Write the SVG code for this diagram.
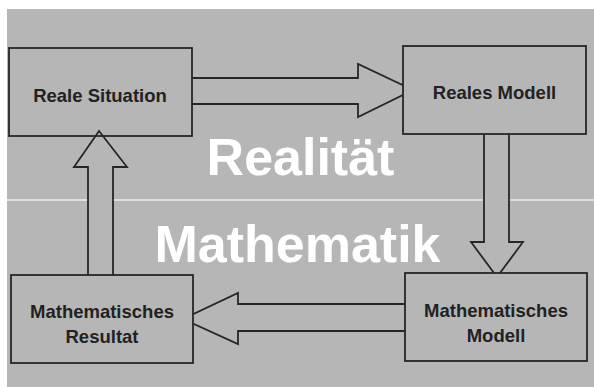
<svg xmlns="http://www.w3.org/2000/svg" width="594" height="387" viewBox="0 0 594 387">
<style>
.bg{fill:#b6b6b6}
.box{fill:#b6b6b6;stroke:#262626;stroke-width:1.8}
.arr{fill:#b6b6b6;stroke:#262626;stroke-width:1.8;stroke-linejoin:miter}
.lbl{font-family:"Liberation Sans",Arial,sans-serif;font-weight:bold;font-size:18.5px;fill:#222;text-anchor:middle}
.big{font-family:"Liberation Sans",Arial,sans-serif;font-weight:bold;font-size:52px;fill:#fff;text-anchor:middle}
</style>
<rect x="0" y="0" width="594" height="387" fill="#fff"/>
<rect class="bg" x="7" y="9" width="587" height="378"/>
<line x1="7" y1="200" x2="594" y2="200" stroke="#ececec" stroke-width="1.5"/>
<text class="big" x="300.5" y="175">Realität</text>
<text class="big" x="297.5" y="262">Mathematik</text>
<g id="connectors">
<path class="arr" d="M192,78 H358 V64 L413,90 L358,117 V104 H192"/>
<path class="arr" d="M484,134 V242 H471 L497,277 L523,242 H509 V134"/>
<path class="arr" d="M405,304 H238 V293 L183,319 L238,344 V331 H405"/>
<path class="arr" d="M88,275 V167 H74 L99,131 L127,167 H113 V275"/>
</g>
<g id="reale-situation">
<rect class="box" x="9" y="48" width="183" height="88" style="fill:none"/>
<text class="lbl" x="100" y="102">Reale Situation</text>
</g>
<g id="reales-modell">
<rect class="box" x="403" y="46" width="183" height="88"/>
<text class="lbl" x="494.5" y="99">Reales Modell</text>
</g>
<g id="mathematisches-modell">
<rect class="box" x="405" y="273" width="182" height="88"/>
<text class="lbl" x="496" y="317">Mathematisches</text>
<text class="lbl" x="496" y="342">Modell</text>
</g>
<g id="mathematisches-resultat">
<rect class="box" x="11" y="275" width="182" height="88"/>
<text class="lbl" x="102" y="318">Mathematisches</text>
<text class="lbl" x="102" y="343">Resultat</text>
</g>
</svg>
